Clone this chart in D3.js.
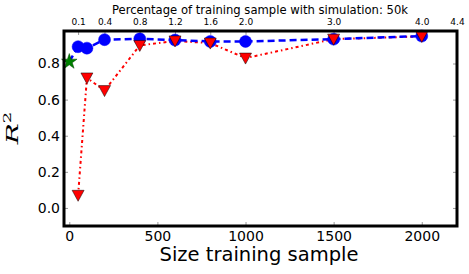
<!DOCTYPE html>
<html><head><meta charset="utf-8">
<script src="https://cdn.jsdelivr.net/npm/d3@7"></script>
<style>body{margin:0;background:#fff}svg{display:block}</style>
</head><body><svg id="c" width="469" height="274" font-family="DejaVu Sans"></svg>
<script>
const blueSizes = [0, 50, 100, 200, 400, 600, 800, 1000, 1500, 2000];
const blueR2 = [0.81, 0.893, 0.885, 0.932, 0.937, 0.93, 0.922, 0.922, 0.935, 0.952];
const redSizes = [50, 100, 200, 400, 600, 800, 1000, 1500, 2000];
const redR2 = [0.07, 0.72, 0.65, 0.90, 0.925, 0.913, 0.83, 0.935, 0.95];
const starPoint = [0, 0.81];
const xTicks = [0, 500, 1000, 1500, 2000];
const yTicks = [0.0, 0.2, 0.4, 0.6, 0.8];
const topTickLabels = ["0.1", "0.4", "0.8", "1.2", "1.6", "2.0", "3.0", "4.0", "4.4"];
const topTickSizes = [50, 200, 400, 600, 800, 1000, 1500, 2000, 2200];

const L = 64, R = 457, T = 31, B = 226;
const svg = d3.select("#c");
const x = d3.scaleLinear().domain([-30, 2200]).range([L, R]);
const y = d3.scaleLinear().domain([-0.1, 0.98]).range([B, T]);

// ticks
const tickCol = "#999";
const gx = svg.append("g").attr("transform", `translate(0,${B})`)
  .call(d3.axisBottom(x).tickValues(xTicks).tickSize(-4).tickPadding(5).tickFormat(d3.format("d")));
const gy = svg.append("g").attr("transform", `translate(${L},0)`)
  .call(d3.axisLeft(y).tickValues(yTicks).tickSize(-4).tickPadding(4).tickFormat(d3.format(".1f")));
const gr = svg.append("g").attr("transform", `translate(${R},0)`)
  .call(d3.axisRight(y).tickValues(yTicks).tickSize(-4).tickFormat(""));
const xt = d3.scaleOrdinal().domain(topTickSizes).range(topTickLabels);
const gt = svg.append("g").attr("transform", `translate(0,${T})`)
  .call(d3.axisTop(x).tickValues(topTickSizes).tickSize(-4).tickPadding(6).tickFormat(d => xt(d)));
[gx, gy, gr, gt].forEach(g => {
  g.select(".domain").remove();
  g.attr("font-family", "DejaVu Sans");
  g.selectAll(".tick line").attr("stroke", tickCol).attr("stroke-width", 1);
  g.selectAll("text").attr("fill", "#000");
});
gx.selectAll("text").attr("font-size", 14);
gy.selectAll("text").attr("font-size", 14);
gt.selectAll("text").attr("font-size", 9);

// lines
const blueData = blueSizes.map((s, i) => [s, blueR2[i]]);
const redData = redSizes.map((s, i) => [s, redR2[i]]);
const line = d3.line().x(d => x(d[0])).y(d => y(d[1]));
svg.append("path").datum(redData).attr("d", line).attr("fill", "none")
  .attr("stroke", "red").attr("stroke-width", 2).attr("stroke-dasharray", "3,3,1.5,3");
svg.append("path").datum(blueData).attr("d", line).attr("fill", "none")
  .attr("stroke", "blue").attr("stroke-width", 2.5).attr("stroke-dasharray", "7,4");

// blue circles
svg.append("g").selectAll("circle").data(blueData.filter(d => d[0] > 0)).join("circle")
  .attr("cx", d => x(d[0])).attr("cy", d => y(d[1])).attr("r", 6)
  .attr("fill", "blue").attr("stroke", "blue").attr("stroke-width", 0.5);

// red triangles (down)
svg.append("g").selectAll("path").data(redData).join("path")
  .attr("d", "M-6,-5L6,-5L0,6Z")
  .attr("transform", d => `translate(${x(d[0])},${y(d[1])})`)
  .attr("fill", "red").attr("stroke", "#000").attr("stroke-width", 0.5);

// star
svg.append("path").attr("d", d3.symbol().type(d3.symbolStar).size(75)())
  .attr("transform", `translate(${x(starPoint[0])},${y(starPoint[1])})`)
  .attr("fill", "green").attr("stroke", "#004400").attr("stroke-width", 0.5);

// frame
svg.append("rect").attr("x", L).attr("y", T).attr("width", R - L).attr("height", B - T)
  .attr("fill", "none").attr("stroke", "#000").attr("stroke-width", 3);

// labels
svg.append("text").attr("x", 260).attr("y", 14).attr("text-anchor", "middle")
  .attr("font-size", 11.6).text("Percentage of training sample with simulation: 50k");
svg.append("text").attr("x", 259).attr("y", 261).attr("text-anchor", "middle")
  .attr("font-size", 19.5).text("Size training sample");
const yl = svg.append("text").attr("transform", `translate(18,128) rotate(-90) scale(1,0.62)`)
  .attr("text-anchor", "middle").attr("font-family", "DejaVu Serif")
  .attr("font-size", 28);
yl.append("tspan").attr("font-style", "italic").text("R");
yl.append("tspan").attr("dy", -11).attr("font-size", 18).text("2");
</script></body></html>
